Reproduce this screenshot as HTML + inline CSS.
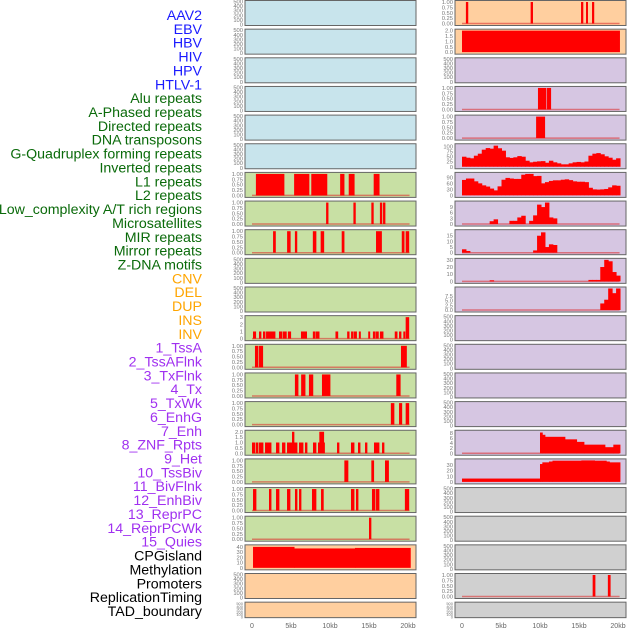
<!DOCTYPE html>
<html><head><meta charset="utf-8"><style>
html,body{margin:0;padding:0;background:#fff;width:630px;height:630px;overflow:hidden}
svg{display:block;font-family:"Liberation Sans",sans-serif}
</style></head><body>
<svg id="chart" width="630" height="630" viewBox="0 0 630 630"></svg>
<script>
// ---- data ----
const trackLabels=["AAV2","EBV","HBV","HIV","HPV","HTLV-1","Alu repeats","A-Phased repeats","Directed repeats","DNA transposons","G-Quadruplex forming repeats","Inverted repeats","L1 repeats","L2 repeats","Low_complexity A/T rich regions","Microsatellites","MIR repeats","Mirror repeats","Z-DNA motifs","CNV","DEL","DUP","INS","INV","1_TssA","2_TssAFlnk","3_TxFlnk","4_Tx","5_TxWk","6_EnhG","7_Enh","8_ZNF_Rpts","9_Het","10_TssBiv","11_BivFlnk","12_EnhBiv","13_ReprPC","14_ReprPCWk","15_Quies","CPGisland","Methylation","Promoters","ReplicationTiming","TAD_boundary"];
const labelColors=["#1a1aff","#1a1aff","#1a1aff","#1a1aff","#1a1aff","#1a1aff","#0a6a0a","#0a6a0a","#0a6a0a","#0a6a0a","#0a6a0a","#0a6a0a","#0a6a0a","#0a6a0a","#0a6a0a","#0a6a0a","#0a6a0a","#0a6a0a","#0a6a0a","#ffa500","#ffa500","#ffa500","#ffa500","#ffa500","#a030f0","#a030f0","#a030f0","#a030f0","#a030f0","#a030f0","#a030f0","#a030f0","#a030f0","#a030f0","#a030f0","#a030f0","#a030f0","#a030f0","#a030f0","#000","#000","#000","#000","#000"];
const xTickValues=[0,5,10,15,20];
const xTickLabels=["0","5kb","10kb","15kb","20kb"];
const emptyTicks=[0,100,200,300,400,500];
const binTicks=[0,0.25,0.5,0.75,1];
// segment tracks: [startKb,endKb,value]
const segL6=[[0.5,4.1,1],[5.4,7.3,1],[7.6,9.6,1],[11.3,11.8,1],[12.4,13.1,1],[15.6,16.3,1]];
const segL7=[[9.5,9.75,1],[13.0,13.25,1],[15.3,15.55,1],[16.4,16.65,1],[16.8,17.05,1]];
const segL8=[[2.7,3.0,1],[4.5,4.9,1],[5.5,5.75,1],[7.8,8.2,1],[8.8,9.2,1],[11.5,11.8,1],[15.9,16.6,1],[19.2,19.5,1],[19.7,20.1,1]];
const segL11=[[0.13,0.47,1],[0.9,1.15,1],[1.41,1.67,1],[1.8,2.95,1],[3.46,3.85,1],[3.97,4.4,1],[4.6,4.96,1],[6.28,7.0,1],[7.8,8.1,1],[8.2,8.6,1],[10.7,11.0,1],[12.2,12.45,1],[12.7,12.9,1],[13.0,13.4,1],[13.7,13.9,1],[14.9,15.1,1],[15.5,15.8,1],[15.9,16.2,1],[16.4,16.8,1],[18.3,18.6,1],[18.85,19.1,1],[19.4,19.6,1],[19.7,20.1,3]];
const segL12=[[0.38,0.77,1],[0.9,1.37,1],[19.1,19.8,1]];
const segL13=[[5.5,5.9,1],[6.3,6.8,1],[7.3,7.8,1],[8.97,10.0,1],[18.5,19.0,1]];
const segL14=[[17.8,18.2,1],[18.85,19.2,1],[19.7,20.1,1]];
const segL15=[[0,0.38,1],[0.51,0.77,1],[0.9,1.41,1],[1.67,2.44,1],[3.08,3.46,1],[3.85,4.23,1],[4.49,5.13,1],[5.13,5.38,2],[5.38,5.77,1],[6.03,6.54,1],[6.79,7.05,1],[7.82,8.2,1],[8.46,8.63,1],[8.63,9.19,2],[9.19,9.23,1],[10.9,11.15,1],[12.69,13.08,1],[13.59,13.85,1],[14.49,14.74,1],[15.64,16.28,1],[16.67,16.92,1]];
const segL16=[[11.84,12.3,1],[15.3,15.6,1],[17.05,17.5,1]];
const segL17=[[0.13,0.51,1],[2.18,2.44,1],[3.08,3.46,1],[4.49,4.87,1],[5.51,5.77,1],[6.03,6.28,1],[7.69,8.2,1],[8.85,9.14,1],[12.69,13.08,1],[13.33,13.59,1],[15.38,15.77,1],[15.9,16.28,1],[19.6,20.1,1]];
const segL18=[[15.0,15.25,1]];
const segL19=[[0.13,5.4,40],[5.4,13.2,37],[13.2,20.3,38]];
const segR0=[[0.5,0.75,1],[8.8,9.05,1],[15.26,15.5,1],[15.9,16.1,1],[16.67,16.9,1]];
const segR1=[[0,20.2,2]];
const segR3=[[9.74,10.77,1],[10.9,11.37,1]];
const segR4=[[9.5,10.6,1]];
const segR15=[[10.0,10.3,8.2],[10.3,10.64,7.3],[10.64,13.2,6.5],[13.2,14.7,5.5],[14.7,15.64,4.5],[15.64,18.33,3.4],[18.33,19.4,2.4],[19.4,20.26,3.4]];
const segR16=[[0,10.0,6],[10.0,10.3,32],[10.3,11.15,35],[11.15,11.6,36.5],[11.6,15.3,38],[15.3,17.0,39.6],[17.0,18.5,38],[18.5,18.9,36.5],[18.9,20.26,35]];
const segR20=[[16.75,17.05,1],[18.7,19.0,1]];
// histogram tracks: 40 bins across 0-20.26 kb
const histR5=[50,45,42,55,65,85,93,90,105,92,80,47,44,47,53,50,30,22,25,27,28,20,30,22,17,12,12,17,22,24,22,26,55,65,68,62,52,45,35,42];
const histR6=[77,84,84,70,60,50,44,34,25,45,78,87,84,82,82,103,108,108,96,97,60,66,72,75,75,78,80,76,70,68,68,66,38,30,29,30,32,40,50,48];
const histR7=[0,0,0,0,0,0,0,1.5,2.5,0,0,0,1.7,1.7,3.5,4.4,0,1.7,4.6,10.3,9,11.7,3.5,3,0,0,0,0,0,0,0,0,0,0,0,0,0,0,0,0];
const histR8=[3,1.5,0,0,0,0,0,0,0,0,0,0,0,0,0,0,0,0,2,15,18,5,7.4,6.8,0,0,0,0,0,0,0,0,0,0,0,0,0,0,0,0];
const histR9=[0,0,0,0,0,0,0,1.5,0,0,0,0,0,0,0,0,0,0,0,0,0,0,0,0,0,0,0,0,0,0,0,0,2,2,2,20,30,28,13,8];
const histR10=[0,0,0,0,0,0,0,0,0,0,0,0,0,0,0,0,0,0,0,0,0,0,0,0,0,0,0,0,0,0,0,0,0,0,0,3.5,5.5,11.5,9,11.5];

const BLUE="#c8e4ec",GREEN="#c8e0a4",ORANGE="#ffcf9f",PURPLE="#d6c6e2",GRAY="#d0d0d0";
function P(col,row,bg,type,data,ymax,ticks,fmt,base){return {col,row,bg,type,data,ymax,ticks,fmt,base};}
const panels=[];
for(let r=0;r<6;r++)panels.push(P(0,r,BLUE,"empty",null,500,emptyTicks,0,false));
panels.push(P(0,6,GREEN,"seg",segL6,1,binTicks,2,true));
panels.push(P(0,7,GREEN,"seg",segL7,1,binTicks,2,true));
panels.push(P(0,8,GREEN,"seg",segL8,1,binTicks,2,true));
panels.push(P(0,9,GREEN,"empty",null,500,emptyTicks,0,false));
panels.push(P(0,10,GREEN,"empty",null,500,emptyTicks,0,false));
panels.push(P(0,11,GREEN,"seg",segL11,3,[0,1,2,3],0,true));
panels.push(P(0,12,GREEN,"seg",segL12,1,binTicks,2,true));
panels.push(P(0,13,GREEN,"seg",segL13,1,binTicks,2,true));
panels.push(P(0,14,GREEN,"seg",segL14,1,binTicks,2,true));
panels.push(P(0,15,GREEN,"seg",segL15,2,[0,0.5,1,1.5,2],1,true));
panels.push(P(0,16,GREEN,"seg",segL16,1,binTicks,2,true));
panels.push(P(0,17,GREEN,"seg",segL17,1,binTicks,2,true));
panels.push(P(0,18,GREEN,"seg",segL18,1,binTicks,2,true));
panels.push(P(0,19,ORANGE,"seg",segL19,41,[0,10,20,30,40],0,false));
panels.push(P(0,20,ORANGE,"empty",null,500,emptyTicks,0,false));
panels.push(P(0,21,ORANGE,"empty",null,500,emptyTicks,0,false));
panels.push(P(1,0,ORANGE,"seg",segR0,1,binTicks,2,true));
panels.push(P(1,1,ORANGE,"seg",segR1,2,[0,0.5,1,1.5,2],1,false));
panels.push(P(1,2,PURPLE,"empty",null,500,emptyTicks,0,false));
panels.push(P(1,3,PURPLE,"seg",segR3,1,binTicks,2,true));
panels.push(P(1,4,PURPLE,"seg",segR4,1,binTicks,2,true));
panels.push(P(1,5,PURPLE,"hist",histR5,107,[0,25,50,75,100],0,false));
panels.push(P(1,6,PURPLE,"hist",histR6,107,[0,30,60,90],0,false));
panels.push(P(1,7,PURPLE,"hist",histR7,11.4,[0,3,6,9],0,true));
panels.push(P(1,8,PURPLE,"hist",histR8,19,[0,5,10,15],0,true));
panels.push(P(1,9,PURPLE,"hist",histR9,30,[0,10,20,30],0,true));
panels.push(P(1,10,PURPLE,"hist",histR10,11.5,[0,2.5,5,7.5],1,true));
for(let r=11;r<15;r++)panels.push(P(1,r,PURPLE,"empty",null,500,emptyTicks,0,false));
panels.push(P(1,15,PURPLE,"seg",segR15,8.5,[0,2,4,6,8],0,true));
panels.push(P(1,16,PURPLE,"seg",segR16,38.5,[0,10,20,30],0,false));
panels.push(P(1,17,GRAY,"empty",null,500,emptyTicks,0,false));
panels.push(P(1,18,GRAY,"empty",null,500,emptyTicks,0,false));
panels.push(P(1,19,GRAY,"empty",null,500,emptyTicks,0,false));
panels.push(P(1,20,GRAY,"seg",segR20,1,binTicks,2,true));
panels.push(P(1,21,GRAY,"empty",null,500,emptyTicks,0,false));

// ---- drawing ----
const NS="http://www.w3.org/2000/svg";
const svg=document.getElementById("chart");
function el(tag,attrs,parent){const e=document.createElementNS(NS,tag);for(const k in attrs)e.setAttribute(k,attrs[k]);(parent||svg).appendChild(e);return e;}
const colX=[245,455],panelW=171,pitch=28.65;
function xScale(col,kb){return colX[col]+7+kb*7.8;}
function rowTop(r){return 0.5+r*pitch;}
function rowH(r){return r===21?15.5:25;}

trackLabels.forEach((t,i)=>{
  const tx=el("text",{x:202,y:15+i*13.86+5,"text-anchor":"end","font-size":"14.2",fill:labelColors[i]});
  
  
  tx.textContent=t;
});

panels.forEach(p=>{
  const g=el("g",{});
  
  
  const x0=colX[p.col],top=rowTop(p.row),h=rowH(p.row);
  const yt=top+1.5,yb=top+h-2;
  const ys=v=>yb-(Math.min(v,p.ymax)/p.ymax)*(yb-yt);
  el("rect",{x:x0,y:top,width:panelW,height:h,fill:p.bg,stroke:"#666","stroke-width":1},g);
  if(p.base){el("line",{x1:xScale(p.col,0),x2:xScale(p.col,20.2),y1:yb,y2:yb,stroke:"rgba(220,40,40,0.55)","stroke-width":1.5},g);}
  if(p.type==="seg"){
    p.data.forEach(s=>{
      const b=el("rect",{x:xScale(p.col,s[0]),y:ys(s[2]),width:Math.max(1.2,(s[1]-s[0])*7.8+0.4),height:yb-ys(s[2]),fill:"#ff0000"},g);
      
      
    });
  } else if(p.type==="hist"){
    const bw=20.26/p.data.length;
    p.data.forEach((v,i)=>{
      if(v<=0)return;
      const b=el("rect",{x:xScale(p.col,i*bw),y:ys(v),width:bw*7.8+0.5,height:yb-ys(v),fill:"#ff0000"},g);
      
      
    });
  }
  const tickFs=p.row===21?4:5.8;
  p.ticks.forEach(v=>{
    const yy=(p.type==="empty")?(top+h-1-(v/500)*(h-2)):ys(v);
    const tl=el("text",{x:x0-2,y:yy+2,"text-anchor":"end","font-size":tickFs,fill:"#777"},g);
    
    
    tl.textContent=p.fmt?v.toFixed(p.fmt):String(v);
  });
});

[0,1].forEach(c=>{
  xTickValues.forEach((v,i)=>{
    const t=el("text",{x:xScale(c,v),y:628,"text-anchor":"middle","font-size":"7",fill:"#666"});
    
    
    t.textContent=xTickLabels[i];
  });
});
</script>
</body></html>
